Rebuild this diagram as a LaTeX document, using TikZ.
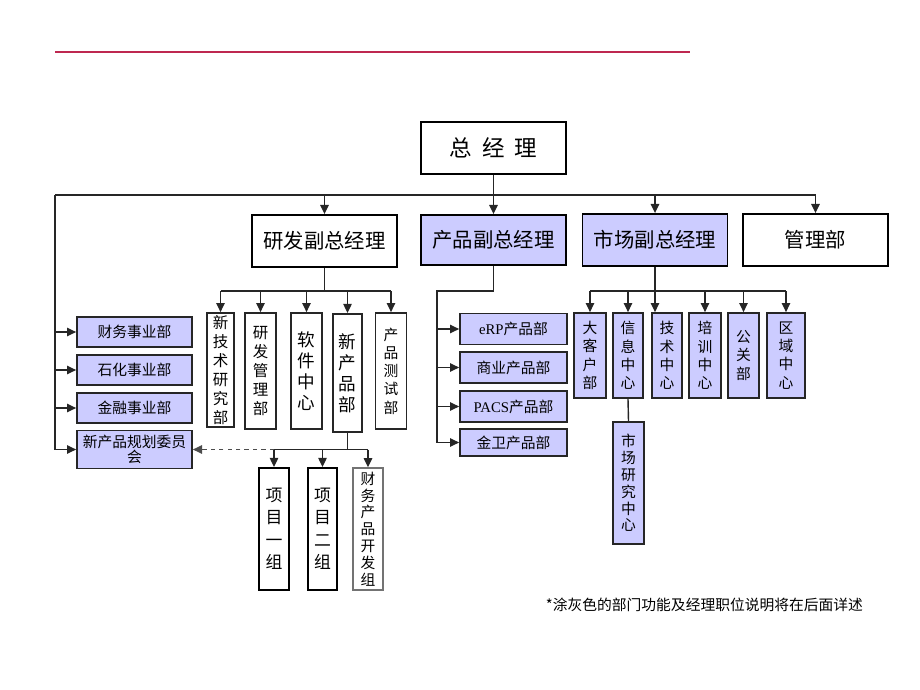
\documentclass[tikz,border=0pt]{standalone}
\usepackage{fontspec}
\setmainfont{Noto Sans CJK SC}
\newfontfamily\enfont{Liberation Serif}
\usetikzlibrary{arrows.meta}
\definecolor{deptblue}{RGB}{204,204,255}
\definecolor{rulered}{RGB}{190,40,80}
\tikzset{
    head-box/.style = {draw=black, line width=1.3pt, fill=white, rectangle, inner sep=0pt, minimum width=3.625cm, minimum height=1.3cm, font=\fontsize{14.5}{16}\selectfont},
    unit-box/.style = {draw=black!85, line width=1.2pt, fill=deptblue, rectangle, inner sep=0pt, minimum width=2.875cm, minimum height=0.75cm, align=center, font=\fontsize{10.5}{11}\selectfont},
    col-box/.style = {draw=black!85, line width=1.2pt, fill=white, rectangle, inner sep=0pt, minimum width=0.75cm, align=center, font=\fontsize{11}{13.5}\selectfont},
    link/.style = {draw=black!85, line width=1pt},
    arrow-link/.style = {link, -{Triangle[length=6.5pt,width=6pt]}},
}

\begin{document}
\begin{tikzpicture}[x=0.025cm, y=-0.025cm]
\useasboundingbox (0,0) rectangle (920,690);
\draw[rulered, line width=0.8pt] (55,52) -- (690,52);

\node[head-box, font=\fontsize{16}{18}\selectfont] (gm) at (493.5,148) {总\hspace{7pt}经\hspace{7pt}理};
\node[head-box] (rd) at (324.5,241) {研发副总经理};
\node[head-box, fill=deptblue, minimum height=1.25cm] (pd) at (493.5,240) {产品副总经理};
\node[head-box, fill=deptblue] (mk) at (655,240) {市场副总经理};
\node[head-box] (adm) at (815.5,240) {管理部};

\node[unit-box] (fin) at (134.5,332) {财务事业部};
\node[unit-box] (pet) at (134.5,370) {石化事业部};
\node[unit-box] (bank) at (134.5,408) {金融事业部};
\node[unit-box, minimum height=0.95cm] (plan) at (134.5,449.5) {新产品规划委员\\会};

\node[col-box, minimum width=0.675cm, minimum height=2.85cm] (newtech) at (220.5,370) {新\\技\\术\\研\\究\\部};
\node[col-box, minimum width=0.775cm, minimum height=2.9cm] (rdmgr) at (260.5,371) {研\\发\\管\\理\\部};
\node[col-box, minimum width=0.775cm, minimum height=2.9cm, font=\fontsize{12.5}{15}\selectfont] (soft) at (306.5,371) {软\\件\\中\\心};
\node[col-box, minimum width=0.725cm, minimum height=2.95cm, line width=1.4pt, font=\fontsize{12.5}{15}\selectfont] (newprod) at (347.5,373) {新\\产\\品\\部};
\node[col-box, minimum width=0.775cm, minimum height=2.9cm, font=\fontsize{10.5}{13}\selectfont] (test) at (391,371) {产\\品\\测\\试\\部};

\node[col-box, minimum height=3.05cm, line width=1.4pt, draw=black, font=\fontsize{12}{16}\selectfont] (g1) at (274,529) {项\\目\\一\\组};
\node[col-box, minimum width=0.725cm, minimum height=3.05cm, line width=1.4pt, draw=black, font=\fontsize{12}{16}\selectfont] (g2) at (322.5,529) {项\\目\\二\\组};
\node[col-box, minimum height=3.05cm, draw=black!55, line width=1pt, font=\fontsize{10.5}{12}\selectfont] (fing) at (368,529) {财\\务\\产\\品\\开\\发\\组};

\node[unit-box, minimum width=2.675cm, minimum height=0.775cm] (erp) at (513.5,329) {{\enfont eRP}产品部};
\node[unit-box, minimum width=2.675cm, minimum height=0.775cm] (biz) at (513.5,367.5) {商业产品部};
\node[unit-box, minimum width=2.675cm, minimum height=0.775cm] (pacs) at (513.5,406.5) {{\enfont PACS}产品部};
\node[unit-box, minimum width=2.675cm, minimum height=0.675cm] (wei) at (513.5,442.5) {金卫产品部};

\node[col-box, fill=deptblue, minimum width=0.8cm, minimum height=2.125cm, font=\fontsize{10.5}{13}\selectfont] (big) at (590,355.5) {大\\客\\户\\部};
\node[col-box, fill=deptblue, minimum height=2.125cm, font=\fontsize{10.5}{13}\selectfont] (info) at (628,355.5) {信\\息\\中\\心};
\node[col-box, fill=deptblue, minimum height=2.125cm, font=\fontsize{10.5}{13}\selectfont] (tech) at (667,355.5) {技\\术\\中\\心};
\node[col-box, fill=deptblue, minimum width=0.8cm, minimum height=2.125cm, font=\fontsize{10.5}{13}\selectfont] (train) at (705,355.5) {培\\训\\中\\心};
\node[col-box, fill=deptblue, minimum width=0.775cm, minimum height=2.125cm, font=\fontsize{10.5}{13}\selectfont] (pr) at (743.5,355.5) {公\\关\\部};
\node[col-box, fill=deptblue, minimum width=0.95cm, minimum height=2.125cm, font=\fontsize{10.5}{13}\selectfont] (area) at (786,355.5) {区\\域\\中\\心};
\node[col-box, fill=deptblue, minimum width=0.775cm, minimum height=3.05cm, font=\fontsize{10.5}{12}\selectfont] (mres) at (628.5,483) {市\\场\\研\\究\\中\\心};

\node[anchor=west, font=\fontsize{10.5}{12}\selectfont] (note) at (541,605) {*涂灰色的部门功能及经理职位说明将在后面详述};

\coordinate (top-bus) at (55,195);
\draw[link, line width=1.3pt] (gm.south) -- (gm.south |- top-bus);
\draw[link] (top-bus) -- (adm.north |- top-bus);
\foreach \n in {rd,pd,mk,adm} \draw[arrow-link] (\n.north |- top-bus) -- (\n.north);
\draw[link] (top-bus) -- (top-bus |- plan.west);
\foreach \n in {fin,pet,bank,plan} \draw[arrow-link] (top-bus |- \n.west) -- (\n.west);

\coordinate (rd-bus) at (324.5,291);
\draw[link] (rd.south) -- (rd-bus);
\draw[link] (newtech.north |- rd-bus) -- (test.north |- rd-bus);
\foreach \n in {newtech,rdmgr,soft,newprod,test} \draw[arrow-link] (\n.north |- rd-bus) -- (\n.north);

\coordinate (np-bus) at (347.5,449.5);
\draw[link] (newprod.south) -- (np-bus);
\draw[link] (g1.north |- np-bus) -- (fing.north |- np-bus);
\foreach \n in {g1,g2,fing} \draw[arrow-link] (\n.north |- np-bus) -- (\n.north);
\draw[arrow-link, dashed, draw=black!70] (g1.north |- np-bus) -- (plan.east);

\coordinate (pd-bus) at (437,291);
\draw[link] (pd.south) -- (pd.south |- pd-bus) -- (pd-bus) -- (pd-bus |- wei.west);
\foreach \n in {erp,biz,pacs,wei} \draw[arrow-link] (pd-bus |- \n.west) -- (\n.west);

\coordinate (mk-bus) at (655,291);
\draw[link] (mk.south) -- (mk-bus);
\draw[link] (big.north |- mk-bus) -- (area.north |- mk-bus);
\foreach \n in {big,info,train,pr,area} \draw[arrow-link] (\n.north |- mk-bus) -- (\n.north);
\draw[arrow-link] (mk-bus) -- (mk-bus |- tech.north);
\draw[link] (info.south) -- (mres.north);
\end{tikzpicture}
\end{document}
